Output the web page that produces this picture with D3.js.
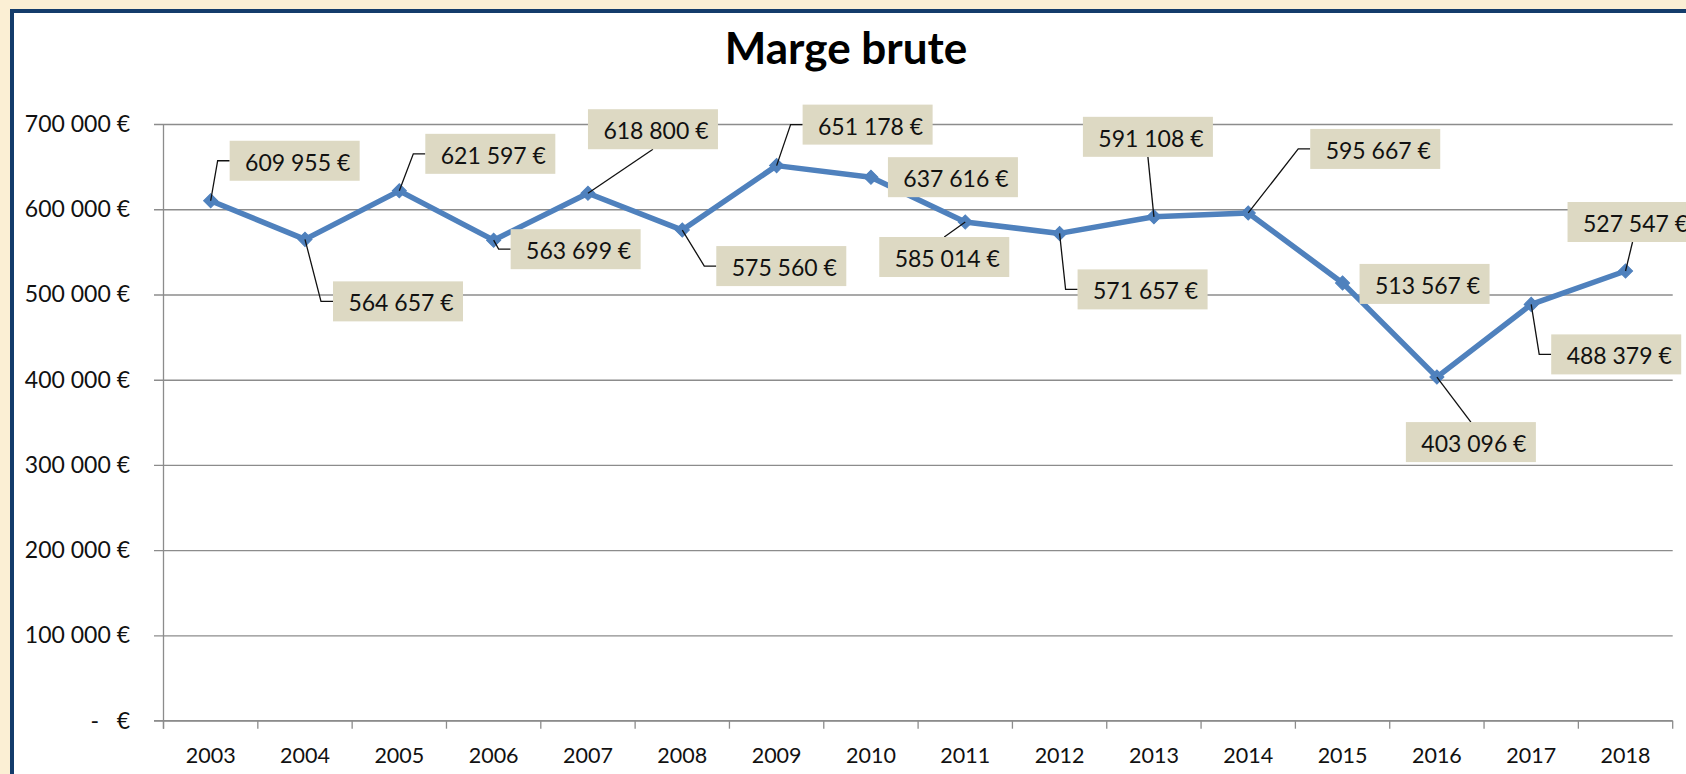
<!DOCTYPE html>
<html>
<head>
<meta charset="utf-8">
<script src="https://cdn.jsdelivr.net/npm/d3@7"></script>
<style>
html, body { margin: 0; padding: 0; overflow: hidden; background: #fbefd4; }
svg { display: block; font-family: Lato, "DejaVu Sans", sans-serif; }
</style>
</head>
<body>
<svg id="chart"></svg>
<script>
// data
const years = ["2003", "2004", "2005", "2006", "2007", "2008", "2009", "2010",
	"2011", "2012", "2013", "2014", "2015", "2016", "2017", "2018"];
const margeBrute = [609955, 564657, 621597, 563699, 618800, 575560, 651178, 637616,
	585014, 571657, 591108, 595667, 513567, 403096, 488379, 527547];
const yTicks = [0, 100000, 200000, 300000, 400000, 500000, 600000, 700000];
const title = "Marge brute";

// where each data label box sits relative to its point, and how its leader is drawn
const labelPlacement = [
	[19, -60, "elbow"], [28, 42, "elbow"], [26, -57, "elbow"], [17, -11, "elbow"],
	[0, -84, "bottom"], [34, 16, "elbow"], [26, -61, "elbow"], [17, -20, null],
	[-86, 15, "top"], [18, 36, "elbow"], [-71, -100, "bottom"], [62, -84, "elbow"],
	[17, -19, null], [-31, 45, "top"], [20, 30, "elbow"], [-58, -69, "bottom"]
];

const W = 1686, H = 774;
const plot = { left: 163.5, top: 124, right: 1672.7, bottom: 720.7 };
const lineColour = "#4f81bd";
const gridColour = "#8c8c8c";
const boxFill = "#ddd9c3";
const boxW = 130, boxH = 40;

const fmt = v => d3.format(",")(v).replace(/,/g, " ") + " €";

const svg = d3.select("#chart").attr("width", W).attr("height", H);

// page background and chart frame
svg.append("rect").attr("width", W).attr("height", H).attr("fill", "#fbefd4");
svg.append("rect")
	.attr("x", 12).attr("y", 11)
	.attr("width", W + 20).attr("height", H + 20)
	.attr("fill", "#ffffff")
	.attr("stroke", "#143c6b")
	.attr("stroke-width", 4);

svg.append("text")
	.attr("x", 846).attr("y", 64)
	.attr("text-anchor", "middle")
	.attr("font-size", 44).attr("font-weight", "bold")
	.attr("fill", "#000")
	.text(title);

let x = d3.scaleBand().domain(years).range([plot.left, plot.right]).padding(0);
let y = d3.scaleLinear().domain([0, 700000]).range([plot.bottom, plot.top]);
let plotW = plot.right - plot.left;

// gridlines (they start a little left of the axis, like tick marks)
svg.append("g")
	.attr("transform", "translate(" + (plot.left - 9.5) + ",0)")
	.call(d3.axisRight(y).tickValues(yTicks).tickSize(plotW + 9.5).tickFormat(""))
	.call(g => g.select(".domain").remove())
	.call(g => g.selectAll("line").attr("stroke", gridColour).attr("stroke-width", 1.3));

// y axis labels
svg.append("g")
	.attr("transform", "translate(" + plot.left + ",0)")
	.call(d3.axisLeft(y).tickValues(yTicks).tickSize(0).tickPadding(33.5)
		.tickFormat(v => v === 0 ? "-   €" : fmt(v)))
	.call(g => g.select(".domain").remove())
	.call(g => g.selectAll("text")
		.attr("font-family", "Lato, 'DejaVu Sans', sans-serif")
		.attr("font-size", 23).attr("fill", "#111")
		.style("white-space", "pre"));

// y axis line
svg.append("line")
	.attr("x1", plot.left).attr("x2", plot.left)
	.attr("y1", plot.top).attr("y2", plot.bottom + 8)
	.attr("stroke", gridColour).attr("stroke-width", 1.3);

// x axis: line, boundary ticks, labels
svg.append("line")
	.attr("x1", plot.left - 9.5).attr("x2", plot.right)
	.attr("y1", plot.bottom).attr("y2", plot.bottom)
	.attr("stroke", gridColour).attr("stroke-width", 1.3);

let bounds = years.map(d => x(d)).concat([plot.right]);
svg.append("g").selectAll("line")
	.data(bounds)
	.join("line")
	.attr("x1", d => d).attr("x2", d => d)
	.attr("y1", plot.bottom).attr("y2", plot.bottom + 8)
	.attr("stroke", gridColour).attr("stroke-width", 1.3);

svg.append("g")
	.attr("transform", "translate(0," + plot.bottom + ")")
	.call(d3.axisBottom(x).tickSize(0).tickPadding(27))
	.call(g => g.select(".domain").remove())
	.call(g => g.selectAll("text")
		.attr("font-family", "Lato, 'DejaVu Sans', sans-serif")
		.attr("font-size", 21.5).attr("fill", "#111"));

// series
let points = years.map((d, i) => ({
	year: d,
	value: margeBrute[i],
	px: x(d) + x.bandwidth() / 2,
	py: y(margeBrute[i]),
	place: labelPlacement[i]
}));

svg.append("path")
	.datum(points)
	.attr("fill", "none")
	.attr("stroke", lineColour)
	.attr("stroke-width", 5.5)
	.attr("stroke-linejoin", "round")
	.attr("d", d3.line().x(d => d.px).y(d => d.py));

svg.append("g")
	.selectAll("path")
	.data(points)
	.join("path")
	.attr("transform", d => "translate(" + d.px + "," + d.py + ") rotate(45)")
	.attr("d", d3.symbol(d3.symbolSquare, 100))
	.attr("fill", lineColour)
	.attr("stroke", lineColour)
	.attr("stroke-width", 1);

// data labels with leader lines
let labels = svg.append("g");
points.forEach(d => {
	let bx = d.px + d.place[0];
	let by = d.py + d.place[1];
	let kind = d.place[2];
	let leader = null;
	if (kind === "elbow") {
		leader = [[d.px, d.py], [bx - 12, by + boxH / 2], [bx, by + boxH / 2]];
	} else if (kind === "top") {
		leader = [[d.px, d.py], [bx + boxW / 2, by]];
	} else if (kind === "bottom") {
		leader = [[d.px, d.py], [bx + boxW / 2, by + boxH]];
	}
	if (leader) {
		labels.append("path")
			.attr("d", d3.line()(leader))
			.attr("fill", "none")
			.attr("stroke", "#111")
			.attr("stroke-width", 1.3);
	}
	labels.append("rect")
		.attr("x", bx).attr("y", by)
		.attr("width", boxW).attr("height", boxH)
		.attr("fill", boxFill);
	labels.append("text")
		.attr("x", bx + boxW / 2 + 3)
		.attr("y", by + boxH * 0.75)
		.attr("text-anchor", "middle")
		.attr("font-size", 23)
		.attr("fill", "#111")
		.text(fmt(d.value));
});
</script>
</body>
</html>
